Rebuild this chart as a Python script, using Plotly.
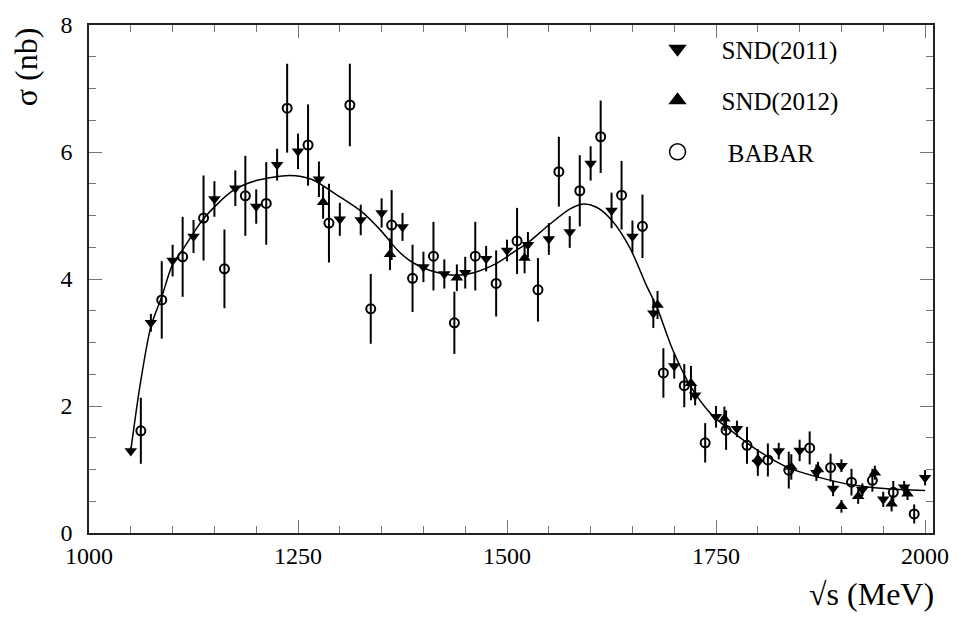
import plotly.graph_objects as go

# SND(2011)
snd11_E = [1050, 1074, 1100, 1125, 1150, 1175, 1200, 1225, 1250, 1275, 1300, 1325, 1350, 1375,
           1400, 1425, 1450, 1475, 1500, 1525, 1550, 1575, 1600, 1625, 1650, 1675, 1700, 1725,
           1750, 1775, 1800, 1825, 1850, 1870, 1890, 1900, 1925, 1950, 1975, 2000]
snd11_s = [1.29, 3.31, 4.29, 4.67, 5.26, 5.43, 5.14, 5.80, 6.01, 5.57, 4.94, 4.93, 5.04, 4.82,
           4.19, 4.08, 4.10, 4.32, 4.45, 4.54, 4.63, 4.74, 5.82, 5.08, 4.67, 3.46, 2.63, 2.17,
           1.83, 1.64, 1.11, 1.29, 1.30, 0.95, 0.70, 1.06, 0.68, 0.53, 0.72, 0.87]
snd11_e = [0.06, 0.14, 0.25, 0.26, 0.28, 0.28, 0.27, 0.25, 0.28, 0.28, 0.26, 0.24, 0.23, 0.22,
           0.24, 0.23, 0.25, 0.20, 0.17, 0.20, 0.25, 0.25, 0.27, 0.28, 0.25, 0.23, 0.20, 0.16,
           0.17, 0.13, 0.21, 0.13, 0.17, 0.13, 0.12, 0.10, 0.10, 0.12, 0.10, 0.12]

# SND(2012)
snd12_E = [1280, 1360, 1440, 1521, 1680, 1720, 1760, 1800, 1840, 1872, 1900, 1920, 1940, 1960, 1979]
snd12_s = [5.21, 4.39, 4.02, 4.33, 3.59, 2.36, 1.80, 1.16, 1.04, 1.00, 0.42, 0.58, 0.95, 0.46, 0.62]
snd12_e = [0.26, 0.25, 0.21, 0.24, 0.22, 0.27, 0.19, 0.15, 0.20, 0.12, 0.10, 0.12, 0.11, 0.12, 0.10]

# BABAR
babar_E = [1062, 1087, 1112, 1137, 1162, 1187, 1212, 1237, 1262, 1287, 1312, 1337, 1362, 1387,
           1412, 1437, 1462, 1487, 1512, 1537, 1562, 1587, 1612, 1637, 1662, 1687, 1712, 1737,
           1762, 1787, 1812, 1837, 1862, 1887, 1912, 1937, 1962, 1987]
babar_s = [1.61, 3.67, 4.35, 4.96, 4.16, 5.31, 5.19, 6.69, 6.11, 4.88, 6.74, 3.53, 4.85, 4.01,
           4.36, 3.31, 4.36, 3.93, 4.60, 3.83, 5.69, 5.39, 6.24, 5.32, 4.83, 2.52, 2.32, 1.42,
           1.62, 1.38, 1.15, 0.99, 1.34, 1.03, 0.80, 0.83, 0.64, 0.30]
babar_e = [0.52, 0.61, 0.63, 0.67, 0.62, 0.63, 0.65, 0.70, 0.64, 0.62, 0.65, 0.55, 0.55, 0.53,
           0.54, 0.49, 0.54, 0.52, 0.52, 0.50, 0.55, 0.56, 0.57, 0.54, 0.50, 0.39, 0.34, 0.31,
           0.31, 0.29, 0.26, 0.29, 0.26, 0.22, 0.21, 0.18, 0.18, 0.15]

# Fit curve
fit_E = [1050, 1061, 1074, 1087, 1100, 1112, 1137, 1172, 1200, 1240, 1266, 1298, 1326, 1350,
         1370, 1387, 1409, 1437, 1460, 1488, 1512, 1525, 1550, 1575, 1591, 1607, 1625, 1647,
         1666, 1680, 1698, 1720, 1745, 1769, 1801, 1836, 1872, 1912, 1951, 2000]
fit_s = [1.30, 2.32, 3.25, 3.72, 4.23, 4.46, 4.95, 5.39, 5.55, 5.63, 5.57, 5.31, 5.06, 4.75,
         4.44, 4.26, 4.13, 4.06, 4.10, 4.25, 4.46, 4.57, 4.85, 5.10, 5.18, 5.13, 4.93, 4.49,
         3.92, 3.53, 2.89, 2.30, 1.86, 1.60, 1.29, 1.03, 0.88, 0.76, 0.70, 0.67]

legend_names = ["  SND(2011)", "  SND(2012)", "   BABAR"]

FONT = "Liberation Serif"

fig = go.Figure()

fig.add_trace(go.Scatter(x=fit_E, y=fit_s, mode="lines", line=dict(color="black", width=1.5, shape="spline", smoothing=0.8),
                         showlegend=False, hoverinfo="skip"))

def err(e):
    return dict(type="data", array=e, visible=True, color="black", thickness=2, width=0)

fig.add_trace(go.Scatter(x=babar_E, y=babar_s, mode="markers", error_y=err(babar_e),
                         marker=dict(symbol="circle-open", size=9, color="black", line=dict(width=2)),
                         showlegend=False))
fig.add_trace(go.Scatter(x=snd11_E, y=snd11_s, mode="markers", error_y=err(snd11_e),
                         marker=dict(symbol="triangle-down", size=11, color="black"),
                         showlegend=False))
fig.add_trace(go.Scatter(x=snd12_E, y=snd12_s, mode="markers", error_y=err(snd12_e),
                         marker=dict(symbol="triangle-up", size=11, color="black"),
                         showlegend=False))

# legend entries
fig.add_trace(go.Scatter(x=[None], y=[None], mode="markers", name=legend_names[0], legendgroup="a",
                         marker=dict(symbol="triangle-down", size=16, color="black")))
fig.add_trace(go.Scatter(x=[None], y=[None], mode="markers", name=legend_names[1], legendgroup="b",
                         marker=dict(symbol="triangle-up", size=16, color="black")))
fig.add_trace(go.Scatter(x=[None], y=[None], mode="markers", name=legend_names[2], legendgroup="c",
                         marker=dict(symbol="circle-open", size=16, color="black", line=dict(width=1.5))))

axis_common = dict(showgrid=False, zeroline=False, showline=True, linecolor="#222", linewidth=1.5,
                   mirror="allticks", ticks="inside", tickcolor="#777", tickwidth=1.2, ticklen=13,
                   tickfont=dict(family=FONT, size=24, color="black"))

fig.update_xaxes(range=[1000, 2009.5], tickmode="array", tickvals=[1000, 1250, 1500, 1750, 2000],
                 ticktext=["1000", "1250", "1500", "1750", "2000"],
                 minor=dict(dtick=50, tick0=1000, ticks="inside", ticklen=7, tickcolor="#777", tickwidth=1.2),
                 **axis_common)
fig.update_yaxes(range=[0, 8], tickmode="array", tickvals=[0, 2, 4, 6, 8],
                 ticktext=["0", "2", "4", "6", "8"], ticklabelstandoff=10,
                 minor=dict(dtick=0.5, tick0=0, ticks="inside", ticklen=7, tickcolor="#777", tickwidth=1.2),
                 **axis_common)

fig.update_layout(
    width=961, height=617,
    margin=dict(l=89, r=22, t=17, b=84),
    paper_bgcolor="white", plot_bgcolor="white",
    font=dict(family=FONT, color="black"),
    legend=dict(x=0.66, y=0.998, xanchor="left", yanchor="top", bgcolor="rgba(0,0,0,0)",
                font=dict(family=FONT, size=25), tracegroupgap=16, itemwidth=53),
    annotations=[
        dict(text="√s (MeV)", xref="paper", yref="paper", x=1.003, y=-0.121, xanchor="right", yanchor="middle",
             showarrow=False, font=dict(family=FONT, size=32)),
        dict(text="σ (nb)", xref="paper", yref="paper", x=-0.075, y=1.0, xanchor="center", yanchor="top",
             textangle=-90, showarrow=False, font=dict(family=FONT, size=32)),
    ],
)

fig.write_html("out.html")
